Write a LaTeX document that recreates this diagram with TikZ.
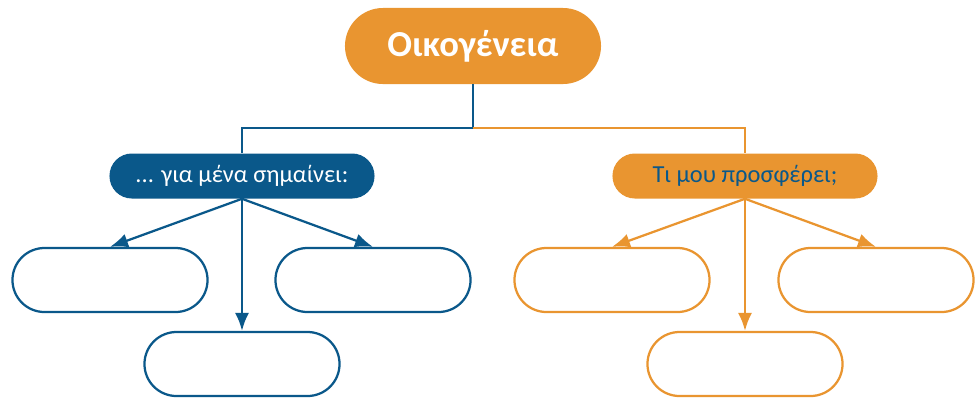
\documentclass[tikz,border=0pt]{standalone}
\usepackage{fontspec}
\setmainfont{Carlito}
\usetikzlibrary{arrows.meta}
\definecolor{famorange}{RGB}{233,149,48}
\definecolor{famblue}{RGB}{10,88,138}

\begin{document}
\begin{tikzpicture}[x=0.025cm, y=-0.025cm,
  title/.style={fill=famorange, rounded corners=0.95cm, minimum width=6.4cm, minimum height=1.9cm, text=white, font=\fontsize{26}{31}\selectfont\bfseries},
  question/.style={rounded corners=0.56cm, minimum width=6.625cm, minimum height=1.125cm, font=\fontsize{17.4}{21}\selectfont},
  answer/.style={draw, line width=1.6pt, fill=white, rounded corners=0.8cm, minimum width=4.875cm, minimum height=1.6cm},
  link/.style={line width=1.6pt},
  tip/.style={-{Latex[length=0.45cm,width=0.35cm]}}]
% Fix the page size
\useasboundingbox (0,0) rectangle (976,397);

% Top and the two questions
\node[title] (fam) at (473,46) {Οικογένεια};
\node[question, fill=famblue, text=white] (mean) at (242,176) {... για μένα σημαίνει:};
\node[question, fill=famorange, text=famblue] (offer) at (745,176) {Τι μου προσφέρει;};

% Empty answer boxes
\node[answer, draw=famblue] (mean1) at (110,280) {};
\node[answer, draw=famblue] (mean2) at (373,280) {};
\node[answer, draw=famblue] (mean3) at (242,364) {};
\node[answer, draw=famorange] (offer1) at (612,280) {};
\node[answer, draw=famorange] (offer2) at (876,280) {};
\node[answer, draw=famorange] (offer3) at (745,364) {};

% Connectors
\coordinate (split) at (473,128);
\draw[link, famblue] (fam.south) -- (split) -| (mean.north);
\draw[link, famorange] (split) -| (offer.north);
\draw[link, tip, famblue] (mean.south) -- (mean1.north);
\draw[link, tip, famblue] (mean.south) -- (mean2.north);
\draw[link, tip, famblue] (mean.south) -- (mean3.north);
\draw[link, tip, famorange] (offer.south) -- (offer1.north);
\draw[link, tip, famorange] (offer.south) -- (offer2.north);
\draw[link, tip, famorange] (offer.south) -- (offer3.north);
\end{tikzpicture}
\end{document}
